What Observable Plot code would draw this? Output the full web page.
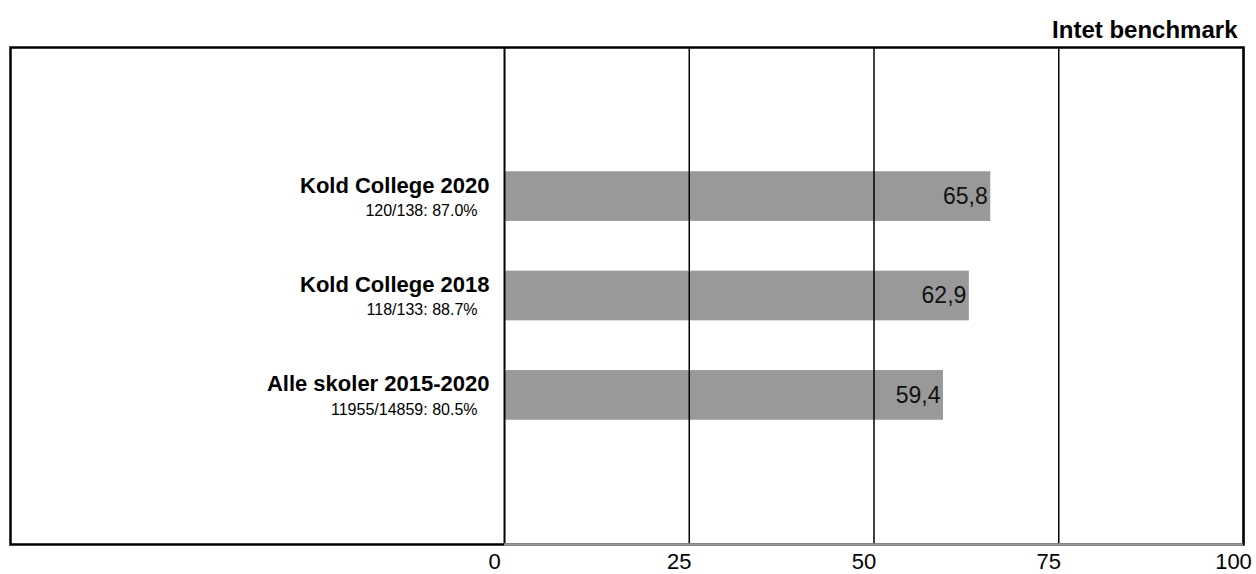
<!DOCTYPE html>
<html>
<head>
<meta charset="utf-8">
<script src="https://cdn.jsdelivr.net/npm/d3@7"></script>
<script src="https://cdn.jsdelivr.net/npm/@observablehq/plot@0.6"></script>
<style>
  html, body { margin: 0; padding: 0; background: #fff; }
  #chart svg { display: block; }
</style>
</head>
<body>
<div id="chart"></div>
<script>
const title = "Intet benchmark";
const categories = ["Kold College 2020", "Kold College 2018", "Alle skoler 2015-2020"];
const subLabels = ["120/138: 87.0%", "118/133: 88.7%", "11955/14859: 80.5%"];
const values = [65.8, 62.9, 59.4];
const xTicks = [0, 25, 50, 75, 100];
const slotCount = 5; // one empty slot above and below the three rows

const data = categories.map((c, i) => ({
  name: c, sub: subLabels[i], value: values[i], slot: i + 1
}));

const fmt = v => v.toFixed(1).replace(".", ",");
const font = "Liberation Sans, Arial, Helvetica, sans-serif";

const chart = Plot.plot({
  width: 1256,
  height: 574,
  marginLeft: 10,
  marginRight: 13,
  marginTop: 47,
  marginBottom: 30,
  style: { fontFamily: font, color: "#000", background: "#fff" },
  x: { domain: [-66.85, 100], axis: null },
  y: { domain: [0, slotCount], reverse: true, axis: null },
  marks: [
    Plot.rectX(data, {
      x1: 0, x2: "value",
      y1: d => d.slot + 0.25, y2: d => d.slot + 0.75,
      fill: "#999999"
    }),
    Plot.ruleX(xTicks, { stroke: "#000", strokeWidth: d => d === 0 ? 2 : 1.5 }),
    Plot.frame({ stroke: "#000", strokeWidth: 2.5 }),
    Plot.ruleY([slotCount], { x1: 0, x2: 100, stroke: "#999999", strokeWidth: 2.5 }),
    Plot.text(data, {
      x: "value", y: d => d.slot + 0.5, text: d => fmt(d.value),
      textAnchor: "end", dx: -3, fontSize: 23, fill: "#111"
    }),
    Plot.text(data, {
      x: 0, y: d => d.slot + 0.5, text: "name",
      textAnchor: "end", dx: -15, dy: -11, fontSize: 22, fontWeight: "bold"
    }),
    Plot.text(data, {
      x: 0, y: d => d.slot + 0.5, text: "sub",
      textAnchor: "end", dx: -27, dy: 14, fontSize: 16
    }),
    Plot.text(xTicks, {
      x: d => d, y: slotCount, text: d => String(d),
      textAnchor: "middle", dx: -10, dy: 17, fontSize: 22
    }),
    Plot.text([title], {
      frameAnchor: "top-right", dx: -6, dy: -27,
      fontSize: 24, fontWeight: "bold"
    })
  ]
});
document.getElementById("chart").appendChild(chart);
</script>
</body>
</html>
